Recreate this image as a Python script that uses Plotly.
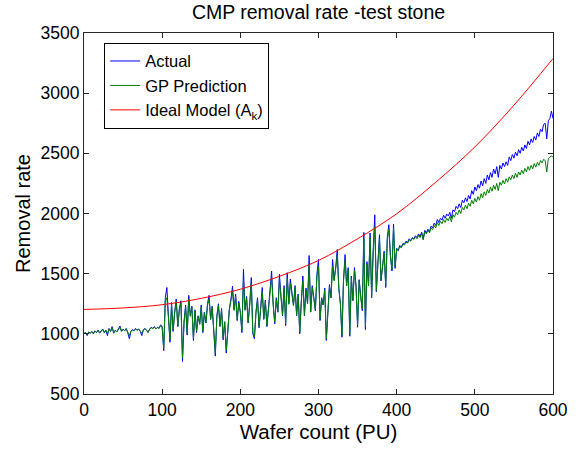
import plotly.graph_objects as go

wafer = list(range(0, 601, 2))

actual = [
    1000, 1010, 985, 1015, 1005, 1020, 1000, 1025, 1010, 1030,
    1005, 1025, 1040, 1010, 1030, 985, 1045, 1020, 1060, 1005,
    1030, 1015, 1040, 1065, 1020, 1040, 1025, 1045, 1010, 960,
    1020, 1035, 1025, 1045, 1030, 1040, 1020, 985, 1035, 1045,
    1030, 1010, 1040, 1055, 1045, 1060, 1040, 1055, 1045, 1075,
    1060,
    860, 1300, 1385, 1150, 930, 1260, 1020, 1180, 1290, 1060,
    1210, 1275, 770, 1100, 1240, 990, 1320, 1150, 1230, 945,
    1200, 1010, 1150, 1080, 1240, 1010, 1180, 1090, 1250, 1320,
    1120, 1230, 1000, 815, 1150, 1250, 1060, 1210, 950, 1100,
    840, 1060, 1210, 1290, 1395, 1200, 1330, 1110, 1270, 1180,
    1010, 1536, 1200, 1310, 1090, 1250, 1467, 1000, 960, 1180,
    1300, 1050, 1250, 1385, 1120, 1280, 1060, 1210, 1340, 1522,
    1250, 1083, 1300, 1180, 1495, 1330, 1150, 1400, 1069, 1508,
    1250, 1456, 1320, 1237, 1400, 1150, 1330, 1000, 1270, 1481,
    1150, 1380, 1250, 1651, 1180, 1400, 1300, 1192, 1500, 1618,
    1110, 1300, 1240, 1380, 945, 1200, 1410, 1300, 1618, 1450,
    1550, 1701, 1380, 1250, 972, 1450, 1659, 1400, 1550, 980,
    1480, 1275, 1550, 1400, 1055, 1450, 1300, 1192, 1843, 1035,
    1600, 1400, 1838, 1300, 1700, 1989, 1350, 1650, 1824, 1440,
    1600, 1687, 1385, 1800, 1907, 1650, 1522, 1912, 1544, 1710,
    1690, 1735, 1720, 1750, 1745, 1770, 1760, 1790, 1775, 1800,
    1790, 1815, 1800, 1830, 1810, 1845, 1790, 1860, 1840, 1870,
    1850, 1895, 1880, 1920, 1900, 1950, 1925, 1960, 1945, 1985,
    1960, 1995, 1980, 2010, 1960, 2030, 2015, 2060, 2040, 2080,
    2050, 2110, 2090, 2130, 2100, 2150, 2120, 2190, 2160, 2220,
    2190, 2240, 2210, 2270, 2230, 2290, 2250, 2320, 2280, 2340,
    2300, 2370, 2330, 2390, 2300, 2400, 2370, 2420, 2390, 2430,
    2400, 2470, 2440, 2490, 2460, 2510, 2480, 2530, 2500, 2550,
    2520, 2570, 2540, 2600, 2570, 2620, 2590, 2640, 2610, 2670,
    2640, 2700, 2680, 2740, 2750, 2620, 2770, 2790, 2850, 2790,
]

gp_prediction = [
    1005, 1010, 995, 1015, 1005, 1018, 1005, 1022, 1012, 1028,
    1008, 1024, 1036, 1012, 1028, 1000, 1040, 1020, 1052, 1010,
    1028, 1018, 1036, 1055, 1022, 1038, 1026, 1040, 1012, 985,
    1022, 1032, 1026, 1040, 1030, 1038, 1022, 1005, 1034, 1042,
    1030, 1015, 1038, 1050, 1044, 1055, 1040, 1052, 1045, 1068,
    1058,
    880, 1270, 1300, 1140, 950, 1240, 1030, 1175, 1270, 1065,
    1200, 1255, 800, 1100, 1225, 1000, 1290, 1145, 1220, 960,
    1190, 1020, 1145, 1080, 1225, 1020, 1175, 1090, 1235, 1290,
    1120, 1220, 1010, 840, 1145, 1235, 1065, 1200, 965, 1100,
    860, 1060, 1200, 1275, 1350, 1195, 1310, 1115, 1255, 1180,
    1030, 1450, 1195, 1295, 1095, 1240, 1420, 1010, 975, 1175,
    1285, 1060, 1240, 1350, 1125, 1270, 1070, 1205, 1320, 1470,
    1245, 1095, 1285, 1180, 1450, 1315, 1155, 1380, 1085, 1460,
    1245, 1420, 1305, 1235, 1385, 1155, 1320, 1015, 1265, 1440,
    1155, 1365, 1250, 1580, 1185, 1385, 1295, 1200, 1480, 1560,
    1125, 1295, 1240, 1365, 960, 1200, 1390, 1300, 1560, 1440,
    1535, 1650, 1375, 1255, 990, 1440, 1610, 1400, 1535, 995,
    1465, 1280, 1530, 1395, 1075, 1440, 1300, 1210, 1790, 1060,
    1580, 1400, 1800, 1310, 1680, 1890, 1360, 1635, 1790, 1450,
    1590, 1670, 1400, 1780, 1870, 1645, 1535, 1880, 1560, 1705,
    1700, 1725, 1715, 1745, 1740, 1760, 1755, 1780, 1770, 1795,
    1785, 1805, 1790, 1820, 1800, 1835, 1780, 1850, 1830, 1860,
    1840, 1880, 1865, 1900, 1880, 1925, 1900, 1935, 1915, 1950,
    1925, 1960, 1940, 1975, 1930, 1990, 1970, 2010, 1990, 2030,
    2000, 2050, 2030, 2070, 2040, 2085, 2060, 2110, 2080, 2125,
    2095, 2140, 2110, 2165, 2130, 2180, 2150, 2200, 2170, 2220,
    2185, 2235, 2200, 2250, 2190, 2260, 2235, 2275, 2245, 2290,
    2260, 2305, 2280, 2320, 2290, 2335, 2300, 2345, 2320, 2360,
    2330, 2375, 2345, 2390, 2360, 2400, 2370, 2415, 2385, 2425,
    2400, 2440, 2420, 2450, 2440, 2345, 2455, 2470, 2480, 2465,
]

ideal_x = [0, 50, 100, 150, 200, 250, 300, 350, 400, 450, 500, 550, 600]
ideal_model = [1203, 1215, 1242, 1295, 1371, 1478, 1610, 1790, 1998, 2260, 2553, 2900, 3288]

x_ticks = [0, 100, 200, 300, 400, 500, 600]
y_ticks = [500, 1000, 1500, 2000, 2500, 3000, 3500]

FONT = "Liberation Sans, Arial, Helvetica, sans-serif"
AX = "#262626"

fig = go.Figure()
fig.add_trace(go.Scatter(x=wafer, y=actual, mode="lines", name="Actual",
                         line=dict(color="#0000ff", width=1)))
fig.add_trace(go.Scatter(x=wafer, y=gp_prediction, mode="lines", name="GP Prediction",
                         line=dict(color="#008000", width=1)))
fig.add_trace(go.Scatter(x=ideal_x, y=ideal_model, mode="lines", name="Ideal Model (A<sub>k</sub>)",
                         line=dict(color="#ff0000", width=1, shape="spline")))

axis_common = dict(
    showgrid=False, zeroline=False, showline=True, linecolor=AX, linewidth=1,
    mirror="allticks", ticks="inside", ticklen=5, tickcolor=AX,
    tickfont=dict(family=FONT, size=17.5, color="#000000"),
)

fig.update_layout(
    width=582, height=454,
    margin=dict(l=84, r=29, t=33, b=60),
    paper_bgcolor="white", plot_bgcolor="white",
    font=dict(family=FONT, color="#000000"),
    title=dict(text="CMP removal rate -test stone", x=0.5, xref="paper",
               y=1 - 12 / 454, yref="container", yanchor="middle",
               font=dict(family=FONT, size=19.5, color="#000000")),
    xaxis=dict(range=[0, 600], tickvals=x_ticks,
               title=dict(text="Wafer count (PU)", font=dict(size=20.5), standoff=4),
               **axis_common),
    yaxis=dict(range=[500, 3500], tickvals=y_ticks,
               title=dict(text="Removal rate", font=dict(size=20), standoff=4),
               **axis_common),
    legend=dict(x=0.043, y=0.973, xanchor="left", yanchor="top",
                bgcolor="white", bordercolor="#000000", borderwidth=1,
                font=dict(family=FONT, size=16.5, color="#000000"),
                itemwidth=30, tracegroupgap=0),
    showlegend=True,
)

fig.write_html("out.html")
